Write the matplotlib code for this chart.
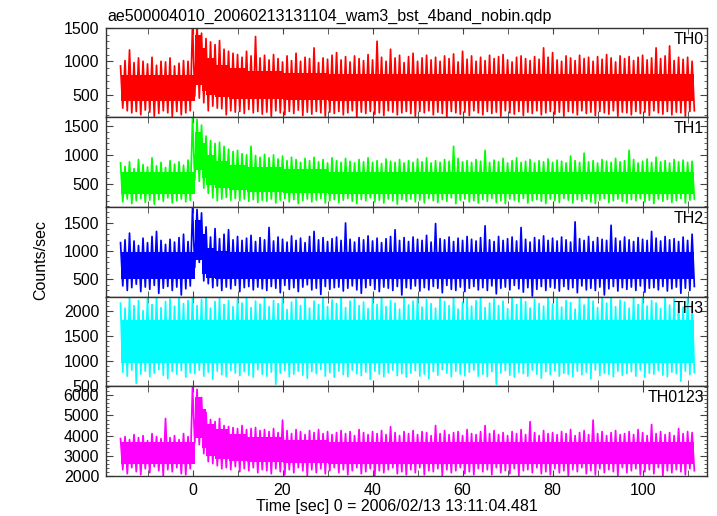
import numpy as np
import matplotlib
matplotlib.use("Agg")
import matplotlib.pyplot as plt
from matplotlib.ticker import MultipleLocator

plt.rcParams['font.family'] = ['Liberation Sans', 'DejaVu Sans']
plt.rcParams['font.size'] = 11.5

# time bins (sec), one bin per second; each bin keeps the local max and min
t_bins = np.arange(-16, 112)

th0_hi = [930, 1010, 1170, 980, 1050, 1000, 960, 1060, 940, 1000, 990, 1050, 930, 970, 1010, 1000,
          1560, 1580, 1420, 1340, 1290, 1250, 1310, 1180, 1150, 1120, 1100, 1060, 1150, 1080, 1370, 1050,
          1090, 1020, 1100, 1040, 990, 1080, 1010, 1120, 1000, 1060, 1040, 1200, 980, 1050, 1030, 1090,
          1130, 1020, 1070, 990, 1080, 1040, 1010, 1100, 1020, 1300, 1060, 1000, 1180, 1050, 1090, 980,
          1070, 1120, 1000, 1050, 1090, 1020, 1060, 1000, 1080, 1040, 1110, 990, 1150, 1030, 1080, 1000,
          1060, 1010, 1090, 1040, 1070, 1100, 1020, 990, 1060, 1080, 1040, 1010, 1070, 1030, 1200, 1060,
          1130, 1020, 1000, 1080, 1050, 1010, 1090, 1040, 1060, 1000, 1070, 1030, 1100, 1050, 990, 1080,
          1040, 1070, 1010, 1060, 1090, 1020, 1050, 1200, 1040, 1080, 1230, 1010, 1060, 1030, 1060, 1000]
th0_lo = [300, 260, 230, 250, 200, 270, 240, 180, 220, 260, 230, 170, 250, 200, 230, 260,
          480, 450, 380, 260, 330, 300, 290, 200, 260, 240, 250, 220, 280, 230, 250, 210,
          240, 180, 260, 230, 200, 250, 220, 270, 190, 240, 210, 250, 230, 180, 240, 220,
          250, 200, 230, 260, 170, 240, 220, 250, 210, 230, 190, 260, 240, 200, 230, 250,
          220, 180, 250, 230, 260, 200, 240, 220, 170, 250, 230, 210, 240, 190, 260, 230,
          200, 250, 220, 240, 180, 260, 230, 210, 250, 190, 240, 220, 260, 200, 230, 250,
          210, 240, 180, 250, 230, 200, 260, 220, 240, 190, 250, 230, 210, 260, 180, 240,
          230, 200, 250, 220, 240, 190, 260, 230, 210, 250, 200, 240, 230, 180, 250, 260]

th1_hi = [860, 800, 880, 760, 920, 830, 790, 950, 810, 870, 780, 900, 840, 880, 820, 910,
          1640, 1620, 1520, 1330, 1250, 1200, 1220, 1150, 1100, 1060, 1080, 1020, 1000, 1150, 990, 960,
          1010, 950, 1000, 930, 980, 900, 960, 920, 870, 940, 900, 960, 880, 920, 860, 950,
          900, 870, 940, 890, 860, 920, 880, 950, 870, 900, 850, 930, 890, 870, 920, 860,
          900, 870, 930, 880, 950, 860, 900, 870, 920, 890, 1150, 940, 880, 900, 870, 920,
          890, 1080, 870, 910, 880, 940, 860, 900, 950, 870, 890, 920, 860, 900, 880, 930,
          870, 910, 890, 860, 980, 900, 870, 1030, 880, 900, 860, 920, 890, 870, 940, 880,
          900, 1080, 920, 860, 890, 930, 870, 960, 880, 900, 860, 920, 880, 910, 870, 890]
th1_lo = [180, 230, 150, 200, 240, 170, 210, 140, 220, 190, 250, 160, 200, 230, 180, 210,
          560, 540, 420, 330, 250, 200, 230, 260, 210, 240, 200, 230, 190, 220, 170, 210,
          190, 230, 160, 210, 240, 180, 220, 150, 200, 230, 180, 210, 240, 160, 200, 220,
          170, 210, 240, 190, 150, 220, 200, 250, 180, 210, 160, 230, 200, 140, 220, 190,
          230, 180, 210, 160, 240, 200, 170, 220, 190, 250, 150, 210, 230, 180, 200, 160,
          220, 190, 240, 170, 200, 150, 230, 210, 180, 240, 160, 200, 220, 190, 150, 230,
          200, 170, 240, 210, 160, 220, 190, 230, 180, 150, 210, 240, 170, 200, 230, 190,
          160, 220, 200, 240, 180, 210, 150, 230, 190, 220, 170, 200, 240, 160, 210, 230]

th2_hi = [1150, 1200, 1320, 1180, 1100, 1230, 1150, 1260, 1350, 1190, 1120, 1210, 1160, 1240, 1300, 1170,
          1760, 1740, 1680, 1430, 1250, 1400, 1220, 1300, 1380, 1200, 1260, 1190, 1230, 1280, 1170, 1240,
          1200, 1420, 1180, 1250, 1210, 1160, 1270, 1190, 1230, 1150, 1260, 1350, 1200, 1240, 1170, 1220,
          1250, 1190, 1500, 1210, 1160, 1240, 1200, 1270, 1180, 1230, 1150, 1220, 1260, 1380, 1190, 1240,
          1170, 1250, 1210, 1190, 1280, 1160, 1490, 1220, 1200, 1250, 1170, 1230, 1190, 1260, 1210, 1180,
          1240, 1450, 1200, 1170, 1260, 1190, 1220, 1250, 1180, 1420, 1210, 1160, 1240, 1200, 1270, 1190,
          1230, 1180, 1250, 1200, 1160, 1520, 1220, 1190, 1260, 1170, 1240, 1210, 1190, 1460, 1230, 1180,
          1250, 1200, 1170, 1240, 1210, 1190, 1350, 1230, 1180, 1260, 1200, 1220, 1170, 1250, 1190, 1300]
th2_lo = [380, 300, 350, 410, 280, 360, 320, 390, 250, 340, 370, 300, 360, 220, 330, 380,
          710, 800, 470, 420, 350, 380, 300, 360, 330, 390, 280, 350, 370, 310, 360, 330,
          300, 370, 340, 260, 390, 320, 350, 280, 360, 400, 310, 340, 230, 370, 320, 350,
          360, 290, 340, 380, 310, 250, 350, 390, 320, 280, 360, 340, 300, 370, 220, 350,
          330, 380, 290, 350, 310, 370, 340, 260, 390, 320, 300, 360, 280, 340, 370, 310,
          350, 300, 380, 240, 340, 360, 310, 390, 330, 270, 350, 200, 320, 370, 300, 360,
          340, 290, 370, 320, 350, 260, 380, 310, 340, 300, 360, 220, 330, 370, 290, 350,
          320, 360, 300, 380, 270, 340, 350, 310, 370, 290, 330, 360, 250, 340, 300, 370]

th3_hi = [2150, 2050, 2280, 2100, 2200, 2000, 2250, 2120, 2280, 2060, 2180, 2230, 2090, 2280, 2140, 2200,
          2280, 2100, 2220, 2280, 2050, 2180, 2260, 2120, 2200, 2080, 2240, 2150, 2280, 2060, 2190, 2130,
          2250, 2080, 2200, 2140, 2280, 2020, 2170, 2230, 2100, 2260, 2050, 2190, 2120, 2280, 2080, 2210,
          2140, 2280, 2060, 2190, 2230, 2100, 2170, 2040, 2250, 2120, 2280, 2080, 2200, 2150, 2030, 2240,
          2110, 2190, 2280, 2070, 2220, 2140, 2050, 2260, 2180, 2100, 2280, 2030, 2170, 2240, 2090, 2200,
          2280, 2060, 2150, 2230, 2100, 2190, 2040, 2270, 2120, 2280, 2180, 2050, 2220, 2140, 2090, 2260,
          2130, 2280, 2070, 2200, 2160, 2030, 2250, 2110, 2280, 2190, 2060, 2240, 2150, 2280, 2080, 2210,
          2170, 2050, 2260, 2120, 2280, 2090, 2200, 2150, 2040, 2280, 2110, 2230, 2180, 2070, 2250, 2140]
th3_lo = [780, 700, 820, 560, 740, 800, 690, 760, 830, 720, 650, 790, 740, 810, 680, 770,
          750, 820, 700, 780, 640, 800, 730, 690, 810, 760, 710, 790, 720, 680, 830, 740,
          700, 780, 540, 760, 810, 690, 740, 800, 720, 660, 790, 750, 830, 700, 770, 680,
          800, 730, 690, 820, 750, 710, 780, 640, 800, 740, 690, 770, 820, 710, 750, 680,
          760, 810, 700, 740, 650, 790, 720, 830, 760, 690, 800, 740, 710, 780, 820, 700,
          740, 690, 790, 540, 760, 810, 720, 680, 780, 750, 700, 820, 740, 660, 790, 730,
          810, 700, 760, 740, 690, 800, 730, 780, 650, 820, 710, 760, 740, 690, 800, 720,
          750, 790, 700, 820, 680, 760, 740, 810, 720, 690, 780, 750, 600, 800, 730, 770]

th0123_hi = [3850, 3950, 3800, 4050, 3900, 4000, 3750, 4100, 3950, 3850, 4850, 3900, 4000, 3800, 4100, 3950,
             6400, 6300, 5900, 5150, 4800, 4700, 4850, 4500, 4450, 4400, 4350, 4500, 4300, 4350, 4400, 4250,
             4300, 4200, 4350, 4150, 4770, 4250, 4100, 4300, 4200, 4050, 4250, 4150, 4300, 4100, 4200, 4050,
             4150, 4250, 4100, 4200, 4000, 4300, 4150, 4050, 4200, 4100, 4250, 4050, 4440, 4150, 4000, 4200,
             4100, 4250, 4050, 4200, 4150, 4000, 4500, 4100, 4250, 4050, 4150, 4200, 4000, 4300, 4100, 4050,
             4200, 4500, 4100, 4250, 4050, 4150, 4000, 4200, 4100, 4300, 4050, 4690, 4150, 4000, 4250, 4100,
             4150, 4050, 4200, 4100, 4300, 4000, 4150, 4250, 4050, 4770, 4100, 4200, 4000, 4150, 4250, 4050,
             4100, 4200, 4050, 4300, 4150, 4000, 4550, 4100, 4200, 4050, 4150, 4000, 4350, 4100, 4200, 4150]
th0123_lo = [2300, 2100, 2400, 2200, 2050, 2350, 2150, 2450, 2250, 2000, 2300, 2200, 2400, 2100, 2050, 2350,
             3650, 3550, 3100, 2700, 2600, 2500, 2350, 2400, 2300, 2450, 2200, 2350, 2250, 2400, 2150, 2300,
             2250, 2100, 2350, 2200, 2050, 2300, 2150, 2400, 2250, 2000, 2300, 2150, 2350, 2100, 2250, 2400,
             2150, 2300, 2050, 2250, 2400, 2100, 2200, 2350, 2000, 2250, 2150, 2300, 2400, 2100, 2200, 2050,
             2300, 2150, 2400, 2050, 2250, 2200, 2350, 2000, 2300, 2150, 2250, 2400, 2100, 2200, 2050, 2350,
             2200, 2300, 2050, 2400, 2150, 2250, 2100, 2350, 2000, 2250, 2300, 2150, 2400, 2100, 2200, 2050,
             2350, 2150, 2250, 2000, 2300, 2200, 2400, 2100, 2250, 2050, 2350, 2150, 2300, 2200, 2000, 2400,
             2150, 2250, 2350, 2050, 2200, 2300, 2100, 2400, 2000, 2250, 2150, 2300, 2200, 2050, 2350, 2250]

# dense core of each curve (where the trace is solid), per time segment
seg_edges = [-16, 0.6, 2, 3, 5, 8, 12, 20, 30, 111.5]
th0_core_top = [800, 1400, 1200, 1050, 950, 900, 860, 830, 810]
th0_core_bot = [410, 650, 550, 490, 460, 440, 430, 420, 410]
th1_core_top = [700, 1400, 1200, 1000, 900, 830, 790, 750, 700]
th1_core_bot = [320, 730, 590, 480, 430, 390, 360, 340, 320]
th2_core_top = [980, 1550, 1300, 1050, 1010, 990, 980, 980, 980]
th2_core_bot = [500, 850, 600, 520, 510, 500, 500, 500, 500]
th3_core_top = [1820, 1820, 1820, 1820, 1820, 1820, 1820, 1820, 1820]
th3_core_bot = [960, 960, 960, 960, 960, 960, 960, 960, 960]
th0123_core_top = [3700, 5900, 5300, 4600, 4350, 4100, 3950, 3800, 3700]
th0123_core_bot = [2600, 3900, 3400, 3000, 2850, 2750, 2700, 2650, 2600]

names = ['TH0', 'TH1', 'TH2', 'TH3', 'TH0123']
colors = ['#ff0000', '#00ff00', '#0000ff', '#00ffff', '#ff00ff']
his = [th0_hi, th1_hi, th2_hi, th3_hi, th0123_hi]
los = [th0_lo, th1_lo, th2_lo, th3_lo, th0123_lo]
core_tops = [th0_core_top, th1_core_top, th2_core_top, th3_core_top, th0123_core_top]
core_bots = [th0_core_bot, th1_core_bot, th2_core_bot, th3_core_bot, th0123_core_bot]
ylims = [(160, 1500), (90, 1655), (190, 1785), (500, 2280), (2000, 6460)]
yticks = [[500, 1000, 1500], [500, 1000, 1500], [500, 1000, 1500],
          [500, 1000, 1500, 2000], [2000, 3000, 4000, 5000, 6000]]
yminor = [100, 100, 100, 100, 200]

fig = plt.figure(figsize=(7.17, 5.16), dpi=100)
fig.subplots_adjust(left=0.148, right=0.986, top=0.946, bottom=0.078, hspace=0)
axes = fig.subplots(5, 1, sharex=True)

# zigzag max -> min inside each bin gives the spiky look of the raw curve
x = np.column_stack([t_bins, t_bins + 0.5]).ravel()
for i, ax in enumerate(axes):
    y = np.column_stack([his[i], los[i]]).ravel()
    ax.fill_between(seg_edges, core_bots[i] + [core_bots[i][-1]], core_tops[i] + [core_tops[i][-1]],
                    step='post', color=colors[i], lw=0)
    ax.plot(x, y, color=colors[i], lw=1.25)
    ax.set_xlim(-19.2, 114.3)
    ax.set_ylim(*ylims[i])
    ax.set_yticks(yticks[i])
    ax.yaxis.set_minor_locator(MultipleLocator(yminor[i]))
    ax.xaxis.set_major_locator(MultipleLocator(20))
    ax.xaxis.set_minor_locator(MultipleLocator(10))
    ax.tick_params(which='both', direction='in', top=True, right=True, colors='#444444',
                   labelcolor='black', labelsize=11.5, pad=5)
    ax.tick_params(axis='y', which='major', length=5)
    ax.tick_params(axis='y', which='minor', length=2.5)
    ax.tick_params(axis='x', which='both', length=4)
    for s in ax.spines.values():
        s.set_color('#333333')
        s.set_linewidth(1.0)
    ax.text(0.995, 0.955, names[i], transform=ax.transAxes, ha='right', va='top', fontsize=11.5)

fig.text(396.5 / 717, 1 - 507 / 516, 'Time [sec] 0 = 2006/02/13 13:11:04.481',
         ha='center', va='center', fontsize=11.5)
fig.text(40.7 / 717, 1 - 260 / 516, 'Counts/sec', rotation=90, ha='center', va='center', fontsize=11.5)
fig.text(107 / 717, 1 - 21 / 516, 'ae500004010_20060213131104_wam3_bst_4band_nobin.qdp',
         ha='left', va='baseline', fontsize=11.5)

fig.savefig('out.png', dpi=100)
